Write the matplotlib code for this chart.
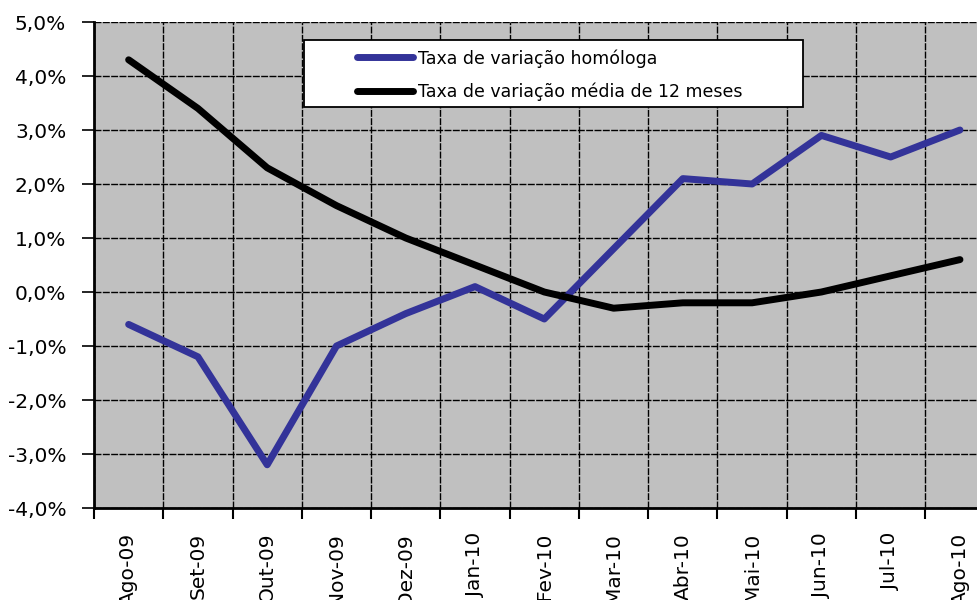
import matplotlib
matplotlib.use('Agg')
import matplotlib.pyplot as plt
from matplotlib.patches import Rectangle
from matplotlib.ticker import FixedLocator, FuncFormatter
import numpy as np

# dados
meses = ['Ago-09', 'Set-09', 'Out-09', 'Nov-09', 'Dez-09', 'Jan-10', 'Fev-10',
         'Mar-10', 'Abr-10', 'Mai-10', 'Jun-10', 'Jul-10', 'Ago-10']
homologa = [-0.6, -1.2, -3.2, -1.0, -0.4, 0.1, -0.5, 0.8, 2.1, 2.0, 2.9, 2.5, 3.0]
media_12m = [4.3, 3.4, 2.3, 1.6, 1.0, 0.5, 0.0, -0.3, -0.2, -0.2, 0.0, 0.3, 0.6]

plt.rcParams['font.family'] = ['DejaVu Sans']

fig = plt.figure(figsize=(9.77, 6.0), dpi=100)
ax = fig.add_axes([94 / 977, 1 - 508 / 600, (994.6 - 94) / 977, (508 - 22) / 600])
ax.set_facecolor('#C0C0C0')

x = np.arange(len(meses))
ax.plot(x, homologa, color='#333399', lw=5, solid_capstyle='round',
        solid_joinstyle='round', label='Taxa de variação homóloga', zorder=3)
ax.plot(x, media_12m, color='black', lw=5, solid_capstyle='round',
        solid_joinstyle='round', label='Taxa de variação média de 12 meses', zorder=3)

ax.set_xlim(-0.5, len(meses) - 0.5)
ax.set_ylim(-4, 5)

# eixo y
ax.set_yticks(np.arange(-4, 5.1, 1))
ax.yaxis.set_major_formatter(FuncFormatter(lambda v, p: f'{v:.1f}%'.replace('.', ',')))
ax.tick_params(axis='y', direction='out', length=9, width=1.2, labelsize=14.5, pad=11)

# eixo x: rótulos ao centro, marcas nas fronteiras
ax.set_xticks(x)
ax.set_xticklabels(meses, rotation=90, va='top')
ax.xaxis.set_minor_locator(FixedLocator(np.arange(-0.5, len(meses), 1)))
ax.tick_params(axis='x', which='major', length=0, labelsize=14.5, pad=18)
ax.tick_params(axis='x', which='minor', direction='out', length=8, width=1.5)

grid_kw = dict(color='black', lw=1.0, linestyle=(0, (5, 1.0)))
ax.grid(axis='y', which='major', **grid_kw)
ax.grid(axis='x', which='minor', **grid_kw)
ax.set_axisbelow(True)

for s in ['left', 'bottom']:
    ax.spines[s].set_linewidth(2)
ax.spines['top'].set_visible(False)
ax.spines['right'].set_visible(False)

# caixa da legenda
y0 = (508 - 107) / 486
y1 = (508 - 40) / 486
x0 = (304 - 94) / 900.6
x1 = (803 - 94) / 900.6
ax.add_patch(Rectangle((x0, y0), x1 - x0, y1 - y0, transform=ax.transAxes,
                       facecolor='white', edgecolor='black', lw=1.3, zorder=5))

leg = ax.legend(loc='upper left', bbox_to_anchor=((357 - 94) / 900.6, (508 - 49) / 486),
                fontsize=12.5, frameon=False, handlelength=3.2, handletextpad=0.3,
                borderpad=0, labelspacing=0.85, borderaxespad=0)
leg.set_zorder(6)

fig.savefig('out.png', dpi=100)
